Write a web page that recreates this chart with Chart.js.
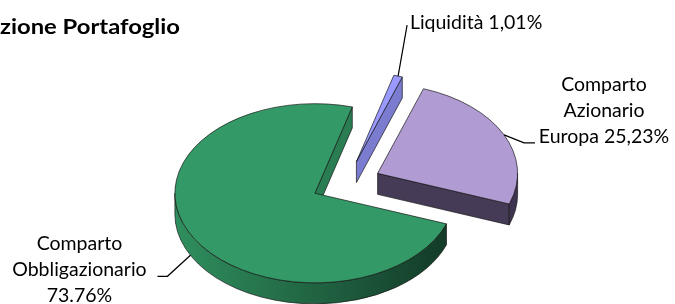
<!DOCTYPE html>
<html><head><meta charset="utf-8">
<script src="https://cdn.jsdelivr.net/npm/chart.js@4.4.1/dist/chart.umd.min.js"></script>
<style>html,body{margin:0;padding:0;background:#fff}#wrap{width:675px;height:304px;position:relative}</style>
</head><body><div id="wrap"><canvas id="c"></canvas></div>
<script>
// ---- data ----
const chartTitle = 'Composizione Portafoglio';
const categories = ['Liquidità', 'Comparto Azionario Europa', 'Comparto Obbligazionario'];
const values = [1.01, 25.23, 73.76];
const valueLabels = ['1,01%', '25,23%', '73.76%'];

// ---- styles ----
const topColors = ['#9999ff', '#b09bd2', '#339966'];
const sideColors = [['#7b7bd0', '#6a6ac0'], ['#4a3f5c', '#3f344f'], ['#2f8f5e', '#123826']];
const faceColors = ['#7b7bd0', '#463b57', '#2a7d52'];
const TILT = 0.64, DEPTH = 21;
// words per label line (wrapping as in the original), leader geometry relative to the slice anchor
const labelLayout = [
  {breaks: [2], elbow: [9, -51], tail: [0, 0], text: [69, 4], lh: 26},
  {breaks: [1, 1, 2], elbow: [20, 8], tail: [11, 0], text: [69, -52], lh: 26},
  {breaks: [1, 1, 1], elbow: [-23, 21], tail: [-10, 0], text: [-78, -26], lh: 26}
];
const FONT = '19.5px Lato';

function geom(chart) {
  const meta = chart.getDatasetMeta(0);
  return meta.data.map((a, i) => {
    const p = a.getProps(['x', 'y', 'startAngle', 'endAngle', 'outerRadius'], true);
    const off = a.options.offset || 0;
    const mid = (p.startAngle + p.endAngle) / 2;
    const ax = p.x + off * Math.cos(mid), ay = p.y + TILT * off * Math.sin(mid);
    return {i, ax, ay, s: p.startAngle, e: p.endAngle, R: p.outerRadius, mid};
  });
}
function pt(g, ang, dy) {
  return [g.ax + g.R * Math.cos(ang), g.ay + TILT * g.R * Math.sin(ang) + (dy || 0)];
}

const pie3d = {
  id: 'pie3d',
  beforeDatasetsDraw(chart) {
    const ctx = chart.ctx;
    const gs = geom(chart).sort((A, B) => Math.sin(A.mid) - Math.sin(B.mid));
    ctx.save();
    ctx.lineJoin = 'round';
    ctx.strokeStyle = 'rgba(20,20,20,0.85)';
    ctx.lineWidth = 0.8;
    gs.forEach(g => {
      const i = g.i, R = g.R, ry = R * TILT;
      const faces = [];
      if (Math.cos(g.s) < 0) faces.push(g.s);
      if (Math.cos(g.e) > 0) faces.push(g.e);
      faces.forEach(ang => {
        const p = pt(g, ang);
        ctx.beginPath();
        ctx.moveTo(g.ax, g.ay);
        ctx.lineTo(p[0], p[1]);
        ctx.lineTo(p[0], p[1] + DEPTH);
        ctx.lineTo(g.ax, g.ay + DEPTH);
        ctx.closePath();
        ctx.fillStyle = faceColors[i];
        ctx.fill();
        ctx.stroke();
      });
      for (let n = -2; n <= 3; n++) {
        const lo = Math.max(g.s, 2 * Math.PI * n), hi = Math.min(g.e, 2 * Math.PI * n + Math.PI);
        if (hi - lo > 1e-4) {
          const grad = ctx.createLinearGradient(g.ax - R, 0, g.ax + R, 0);
          grad.addColorStop(0, sideColors[i][0]);
          grad.addColorStop(1, sideColors[i][1]);
          ctx.beginPath();
          ctx.ellipse(g.ax, g.ay, R, ry, 0, lo, hi);
          ctx.ellipse(g.ax, g.ay + DEPTH, R, ry, 0, hi, lo, true);
          ctx.closePath();
          ctx.fillStyle = grad;
          ctx.fill();
          ctx.stroke();
        }
      }
      ctx.beginPath();
      ctx.moveTo(g.ax, g.ay);
      ctx.ellipse(g.ax, g.ay, R, ry, 0, g.s, g.e);
      ctx.closePath();
      ctx.fillStyle = topColors[i];
      ctx.fill();
      ctx.stroke();
    });
    ctx.restore();
    return false;
  },
  afterDraw(chart) {
    const ctx = chart.ctx;
    const gs = geom(chart);
    ctx.save();
    ctx.font = FONT;
    ctx.fillStyle = '#000';
    ctx.textAlign = 'center';
    ctx.textBaseline = 'alphabetic';
    gs.forEach(g => {
      const L = labelLayout[g.i];
      const anc = pt(g, g.mid, Math.sin(g.mid) > 0 ? DEPTH : 0);
      const el = [anc[0] + L.elbow[0], anc[1] + L.elbow[1]];
      const en = [el[0] + L.tail[0], el[1] + L.tail[1]];
      ctx.beginPath();
      ctx.moveTo(anc[0], anc[1]);
      ctx.lineTo(el[0], el[1]);
      ctx.lineTo(en[0], en[1]);
      ctx.strokeStyle = '#000';
      ctx.lineWidth = 1.2;
      ctx.stroke();
      const words = (categories[g.i] + ' ' + valueLabels[g.i]).split(' ');
      const lines = [];
      let w = 0;
      L.breaks.forEach(n => { lines.push(words.slice(w, w + n).join(' ')); w += n; });
      lines.forEach((ln, k) => ctx.fillText(ln, en[0] + L.text[0], en[1] + L.text[1] + k * L.lh));
    });
    ctx.restore();
    // title (cropped at the left edge as in the original)
    ctx.save();
    ctx.font = 'bold 21px Lato';
    ctx.fillStyle = '#000';
    ctx.textAlign = 'right';
    const sx = 180 / ctx.measureText('zione Portafoglio').width;
    ctx.translate(180, 34);
    ctx.scale(sx, 1);
    ctx.fillText(chartTitle, 0, 0);
    ctx.restore();
  }
};

new Chart(document.getElementById('c'), {
  type: 'pie',
  data: {
    labels: categories,
    datasets: [{data: values, backgroundColor: topColors, borderWidth: 0, offset: 35}]
  },
  options: {
    responsive: true,
    maintainAspectRatio: false,
    animation: false,
    radius: 140,
    rotation: 15.5,
    layout: {padding: {left: 17, right: 0, top: 62, bottom: 0}},
    plugins: {legend: {display: false}, title: {display: false}, tooltip: {enabled: false}}
  },
  plugins: [pie3d]
});
</script>
</body></html>
